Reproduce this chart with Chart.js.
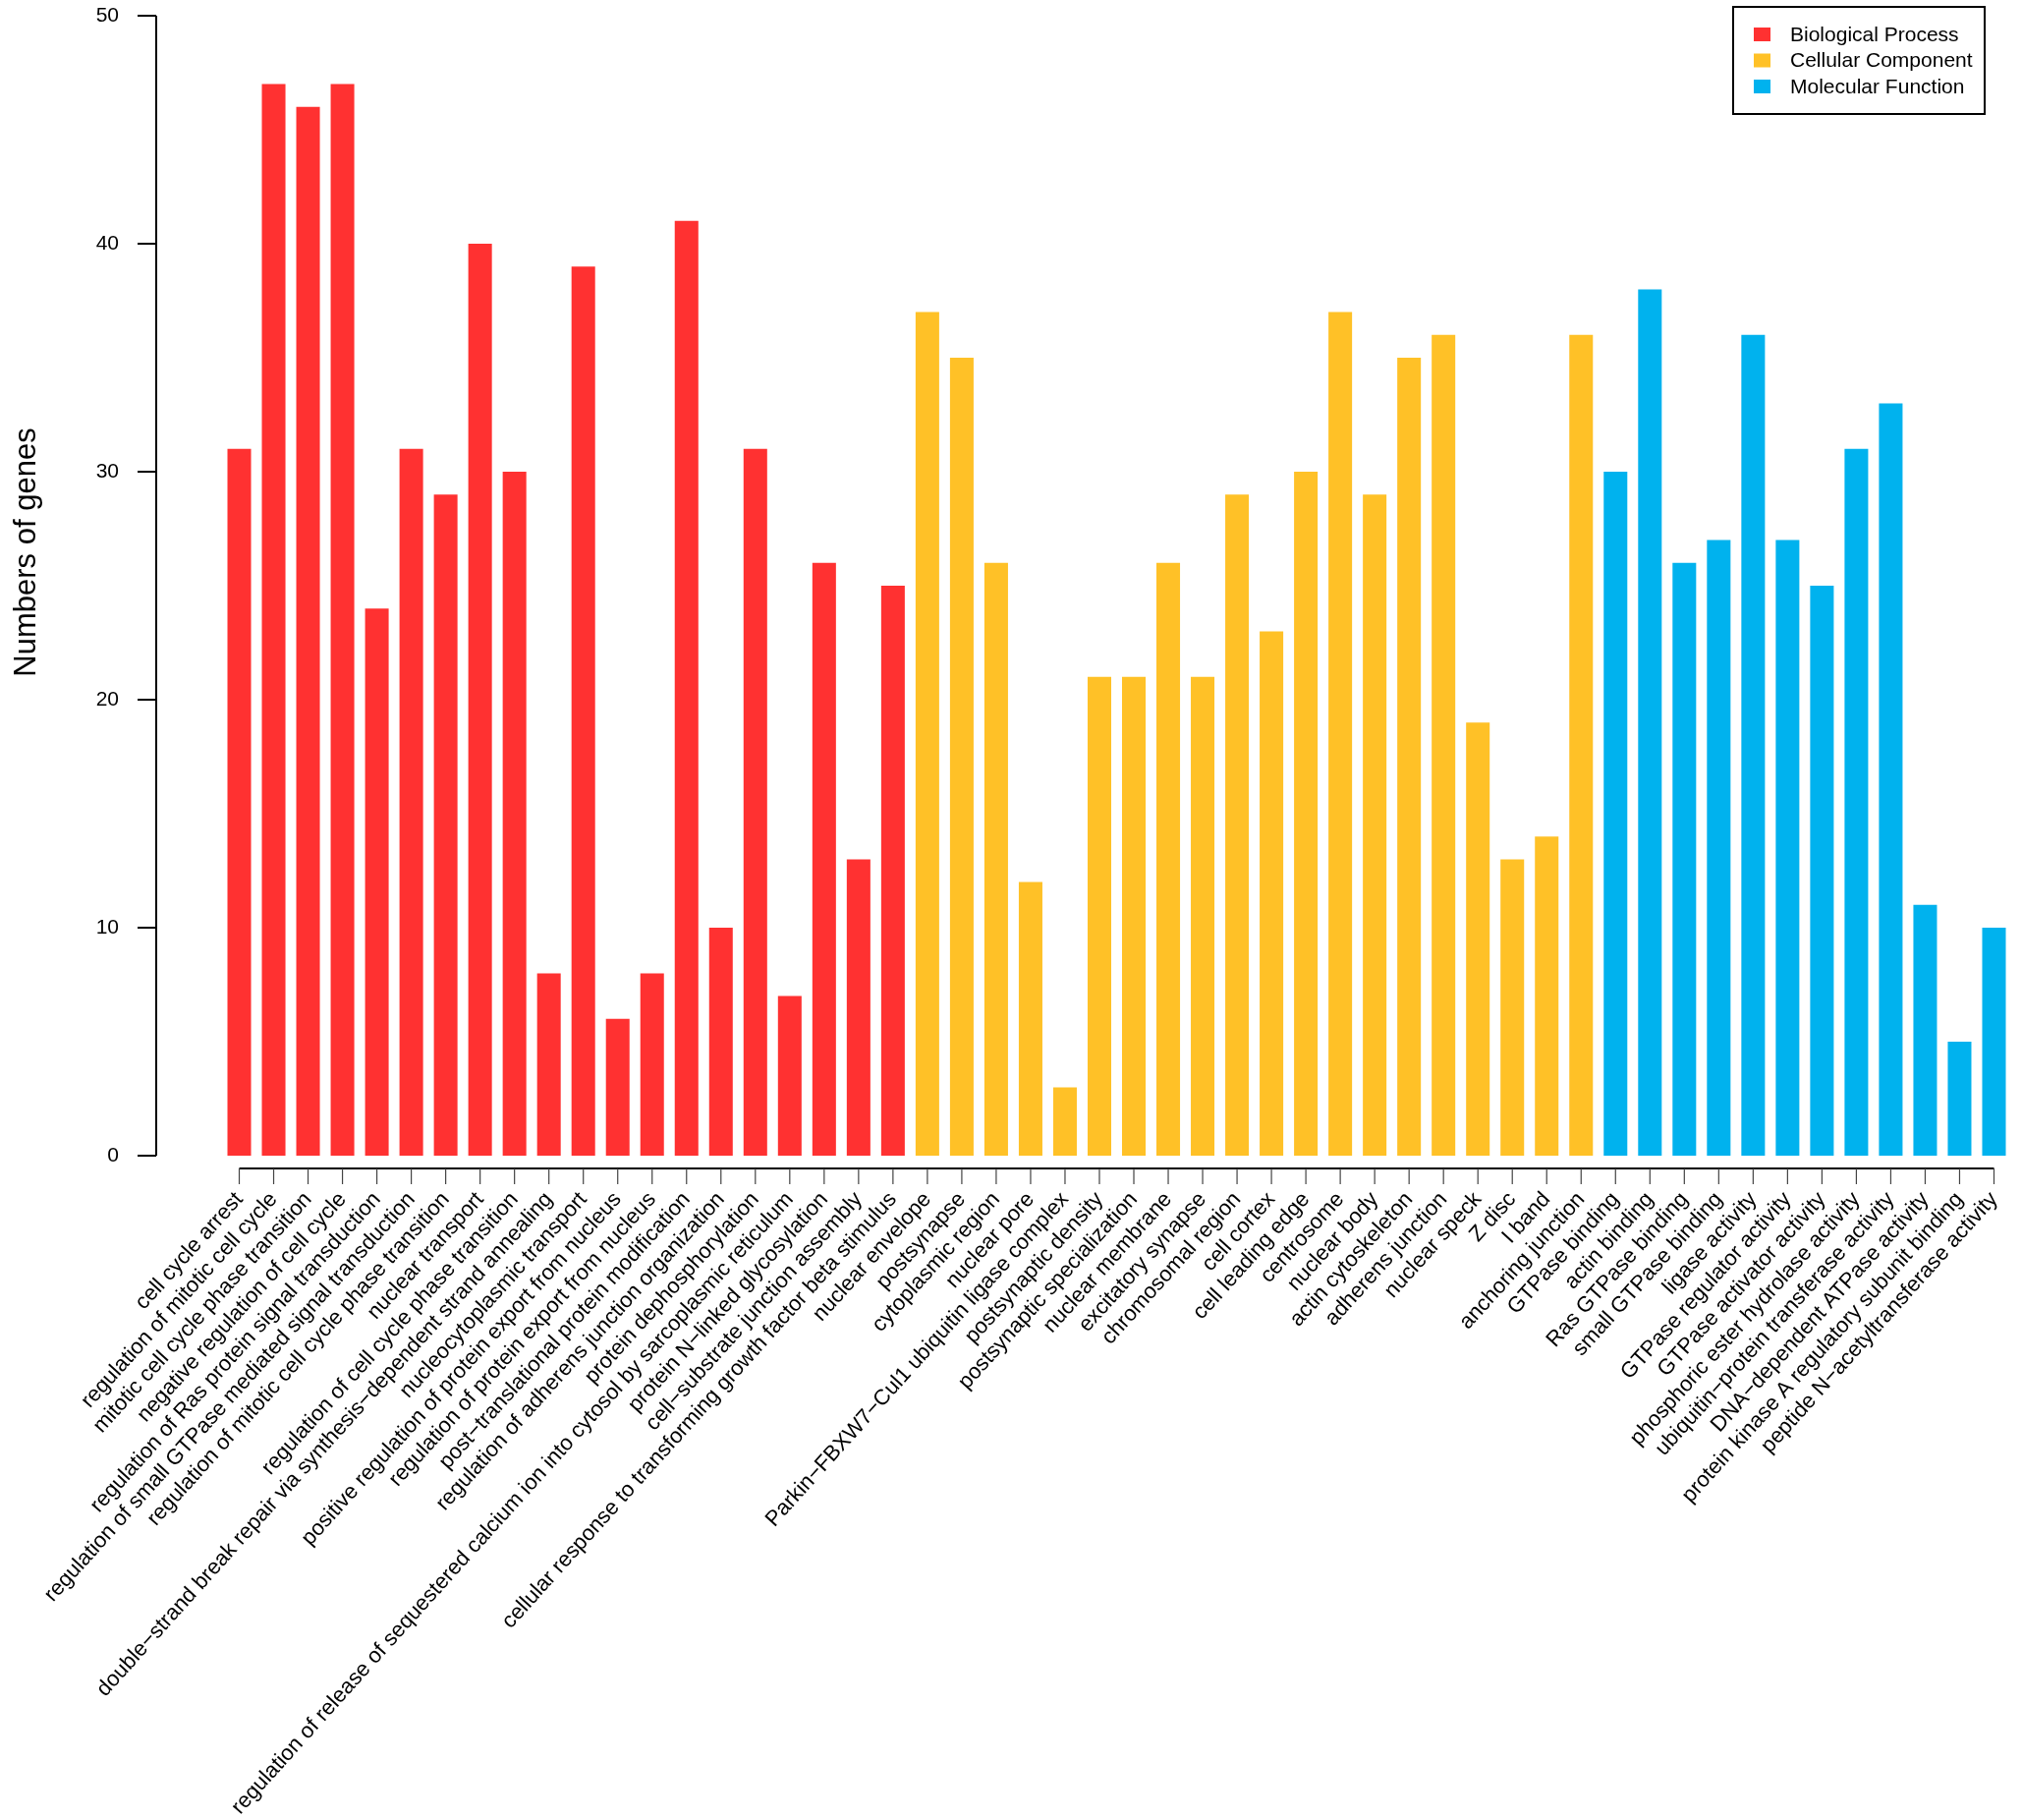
<!DOCTYPE html>
<html>
<head>
<meta charset="utf-8">
<script src="https://cdn.jsdelivr.net/npm/chart.js@4.4.1/dist/chart.umd.min.js"></script>
<style>
  html, body { margin: 0; padding: 0; background: #fff; }
  #goChart { display: block; }
</style>
</head>
<body>
<canvas id="goChart" width="2058" height="1852"></canvas>
<script>
// GO terms and gene counts, one pair of arrays per ontology
const bpTerms = [
  'cell cycle arrest',
  'regulation of mitotic cell cycle',
  'mitotic cell cycle phase transition',
  'negative regulation of cell cycle',
  'regulation of Ras protein signal transduction',
  'regulation of small GTPase mediated signal transduction',
  'regulation of mitotic cell cycle phase transition',
  'nuclear transport',
  'regulation of cell cycle phase transition',
  'double\u2212strand break repair via synthesis\u2212dependent strand annealing',
  'nucleocytoplasmic transport',
  'positive regulation of protein export from nucleus',
  'regulation of protein export from nucleus',
  'post\u2212translational protein modification',
  'regulation of adherens junction organization',
  'protein dephosphorylation',
  'regulation of release of sequestered calcium ion into cytosol by sarcoplasmic reticulum',
  'protein N\u2212linked glycosylation',
  'cell\u2212substrate junction assembly',
  'cellular response to transforming growth factor beta stimulus'
];
const bpCounts = [31, 47, 46, 47, 24, 31, 29, 40, 30, 8, 39, 6, 8, 41, 10, 31, 7, 26, 13, 25];

const ccTerms = [
  'nuclear envelope',
  'postsynapse',
  'cytoplasmic region',
  'nuclear pore',
  'Parkin\u2212FBXW7\u2212Cul1 ubiquitin ligase complex',
  'postsynaptic density',
  'postsynaptic specialization',
  'nuclear membrane',
  'excitatory synapse',
  'chromosomal region',
  'cell cortex',
  'cell leading edge',
  'centrosome',
  'nuclear body',
  'actin cytoskeleton',
  'adherens junction',
  'nuclear speck',
  'Z disc',
  'I band',
  'anchoring junction'
];
const ccCounts = [37, 35, 26, 12, 3, 21, 21, 26, 21, 29, 23, 30, 37, 29, 35, 36, 19, 13, 14, 36];

const mfTerms = [
  'GTPase binding',
  'actin binding',
  'Ras GTPase binding',
  'small GTPase binding',
  'ligase activity',
  'GTPase regulator activity',
  'GTPase activator activity',
  'phosphoric ester hydrolase activity',
  'ubiquitin\u2212protein transferase activity',
  'DNA\u2212dependent ATPase activity',
  'protein kinase A regulatory subunit binding',
  'peptide N\u2212acetyltransferase activity'
];
const mfCounts = [30, 38, 26, 27, 36, 27, 25, 31, 33, 11, 5, 10];

const yTicks = [0, 10, 20, 30, 40, 50];

const FONT = '"Liberation Sans", Arial, Helvetica, sans-serif';

const categories = bpTerms.concat(ccTerms, mfTerms);
const n = categories.length;

// each ontology keeps its own slots on the shared axis
function padded(values, start) {
  const out = new Array(n).fill(null);
  values.forEach((v, i) => { out[start + i] = v; });
  return out;
}

const datasets = [
  { label: 'Biological Process', data: padded(bpCounts, 0), backgroundColor: '#FF3131' },
  { label: 'Cellular Component', data: padded(ccCounts, bpTerms.length), backgroundColor: '#FFC127' },
  { label: 'Molecular Function', data: padded(mfCounts, bpTerms.length + ccTerms.length), backgroundColor: '#00B2EE' }
];

// base-graphics style axes, y title and boxed legend
const rStyle = {
  id: 'rStyle',
  afterDraw(chart) {
    const { ctx, scales: { x, y } } = chart;
    ctx.save();

    // y axis
    const axX = 159;
    ctx.strokeStyle = '#000';
    ctx.lineWidth = 2;
    ctx.beginPath();
    ctx.moveTo(axX, y.getPixelForValue(yTicks[0]));
    ctx.lineTo(axX, y.getPixelForValue(yTicks[yTicks.length - 1]));
    yTicks.forEach(t => {
      const py = y.getPixelForValue(t);
      ctx.moveTo(axX - 19, py);
      ctx.lineTo(axX, py);
    });
    ctx.stroke();

    // x axis
    const axY = y.getPixelForValue(0) + 13;
    ctx.beginPath();
    ctx.moveTo(x.getPixelForValue(0), axY);
    ctx.lineTo(x.getPixelForValue(n - 1), axY);
    ctx.stroke();
    ctx.lineWidth = 1.2;
    ctx.strokeStyle = '#444';
    ctx.beginPath();
    for (let i = 0; i < n; i++) {
      const px = x.getPixelForValue(i);
      ctx.moveTo(px, axY);
      ctx.lineTo(px, axY + 16);
    }
    ctx.stroke();

    // y title
    ctx.fillStyle = '#000';
    ctx.font = '31px ' + FONT;
    ctx.textAlign = 'center';
    ctx.textBaseline = 'middle';
    ctx.save();
    ctx.translate(27, y.getPixelForValue(25) - 34);
    ctx.rotate(-Math.PI / 2);
    ctx.fillText('Numbers of genes', 0, 0);
    ctx.restore();

    // legend
    const bx = 1764, by = 7, bw = 256, bh = 109;
    ctx.lineWidth = 2;
    ctx.strokeStyle = '#000';
    ctx.strokeRect(bx, by, bw, bh);
    ctx.font = '21px ' + FONT;
    ctx.textAlign = 'left';
    chart.data.datasets.forEach((ds, i) => {
      const cy = by + 28 + i * 26.5;
      ctx.fillStyle = ds.backgroundColor;
      ctx.fillRect(bx + 21, cy - 7, 17, 14);
      ctx.fillStyle = '#000';
      ctx.fillText(ds.label, bx + 58, cy + 1);
    });

    ctx.restore();
  }
};

const ctx = document.getElementById('goChart').getContext('2d');
const goChart = new Chart(ctx, {
  type: 'bar',
  data: { labels: categories, datasets: datasets },
  options: {
    responsive: false,
    animation: false,
    devicePixelRatio: 1,
    layout: { padding: { top: 16, right: 11, left: 0, bottom: 0 } },
    datasets: {
      bar: { grouped: false, skipNull: true, categoryPercentage: 1, barPercentage: 0.686 }
    },
    plugins: {
      legend: { display: false },
      tooltip: { enabled: false }
    },
    scales: {
      x: {
        grid: { display: false, drawTicks: false },
        border: { display: false },
        ticks: {
          autoSkip: false,
          minRotation: 48,
          maxRotation: 48,
          padding: 32,
          color: '#000',
          font: { size: 22, family: FONT }
        },
        afterFit: s => {
          s.height = 676;
          s.paddingLeft = 0;
          s.paddingRight = 0;
        }
      },
      y: {
        min: 0,
        max: 50,
        grid: { display: false, drawTicks: false },
        border: { display: false },
        ticks: {
          stepSize: 10,
          padding: 105,
          color: '#000',
          font: { size: 21, family: FONT }
        },
        afterFit: s => {
          s.width = 226;
          s.paddingTop = 0;
          s.paddingBottom = 0;
        }
      }
    }
  },
  plugins: [rStyle]
});
</script>
</body>
</html>
